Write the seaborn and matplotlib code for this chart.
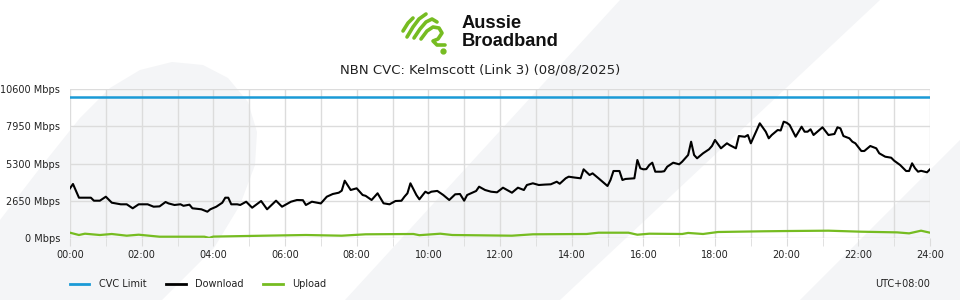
import numpy as np
import pandas as pd
import seaborn as sns
import matplotlib
matplotlib.use("Agg")
import matplotlib.pyplot as plt
from matplotlib.patches import Polygon
from matplotlib.lines import Line2D

# ---------------- data ----------------
title = "NBN CVC: Kelmscott (Link 3) (08/08/2025)"
y_ticks = [0, 2650, 5300, 7950, 10600]
x_tick_labels = ["00:00", "02:00", "04:00", "06:00", "08:00", "10:00", "12:00",
                 "14:00", "16:00", "18:00", "20:00", "22:00", "24:00"]
series_names = ["CVC Limit", "Download", "Upload"]

cvc_minutes = [0, 1440]
cvc_values = [10000, 10000]

download_minutes = [
    0, 5, 15, 35, 40, 50, 60, 70, 85, 95, 105, 115, 130, 140, 150, 160, 165, 175,
    185, 190, 200, 205, 220, 230, 235, 245, 255, 260, 265, 270, 280, 285, 295, 305,
    320, 330, 345, 355, 370, 380, 390, 395, 405, 420, 430, 440, 450, 455, 460, 470,
    480, 485, 490, 495, 505, 515, 525, 535, 545, 555, 560, 565, 570, 580, 585, 595,
    600, 605, 615, 625, 635, 645, 653, 660, 665, 680, 685, 695, 705, 715, 725, 735,
    740, 750, 760, 765, 775, 785, 795, 805, 815, 820, 830, 835, 845, 855, 860, 870,
    875, 885, 900, 905, 910, 920, 925, 930, 945, 950, 955, 960, 965, 970, 975, 980,
    990, 995, 1000, 1010, 1020, 1025, 1035, 1040, 1045, 1050, 1060, 1070, 1075, 1080,
    1090, 1100, 1105, 1115, 1120, 1130, 1135, 1140, 1150, 1155, 1165, 1170, 1175,
    1185, 1190, 1195, 1200, 1205, 1215, 1225, 1230, 1235, 1240, 1245, 1260, 1270,
    1280, 1285, 1290, 1295, 1305, 1310, 1315, 1325, 1330, 1340, 1350, 1355, 1365,
    1375, 1380, 1390, 1400, 1405, 1410, 1415, 1420, 1425, 1435, 1440]
download_values = [
    3535, 3842, 2867, 2867, 2654, 2654, 2938, 2511, 2397, 2397, 2113, 2397, 2397, 2227,
    2250, 2561, 2460, 2348, 2400, 2290, 2370, 2113, 2042, 1871, 2042, 2227, 2511, 2867,
    2867, 2397, 2397, 2350, 2582, 2156, 2632, 2042, 2654, 2227, 2582, 2703, 2690, 2348,
    2582, 2460, 2938, 3130, 3222, 3365, 4076, 3415, 3535, 3294, 3059, 3000, 2703, 3180,
    2468, 2397, 2632, 2650, 2938, 3180, 3891, 3059, 2753, 3294, 3180, 3294, 3350, 3059,
    2703, 3109, 3130, 2654, 3059, 3344, 3650, 3415, 3294, 3250, 3579, 3344, 3222, 3579,
    3415, 3770, 3891, 3770, 3800, 3820, 4005, 3860, 4247, 4361, 4300, 4247, 4887, 4482,
    4600, 4247, 3699, 4126, 4766, 4766, 4126, 4200, 4247, 5549, 4958, 4887, 4900, 5193,
    5357, 4717, 4717, 4750, 5072, 5357, 5243, 5428, 5905, 6851, 5905, 5670, 6026, 6310,
    6550, 6972, 6381, 6737, 6600, 6381, 7256, 7200, 7327, 6737, 7683, 8160, 7562, 7092,
    7327, 7683, 7650, 8274, 8200, 8039, 7206, 7918, 7562, 7562, 7733, 7327, 7875, 7327,
    7400, 7875, 7800, 7256, 7092, 6851, 6737, 6189, 6189, 6545, 6381, 6026, 5784, 5712,
    5499, 5193, 4766, 4766, 5314, 4958, 4717, 4780, 4674, 4887]

upload_minutes = [0, 15, 25, 50, 70, 95, 115, 150, 225, 233, 240, 325, 395, 455, 495,
                  575, 585, 620, 640, 740, 775, 865, 885, 935, 950, 970, 1025, 1035,
                  1060, 1085, 1160, 1205, 1270, 1325, 1385, 1405, 1425, 1440]
upload_values = [377, 213, 306, 213, 285, 164, 235, 92, 92, 10, 100, 164, 213, 164, 263,
                 285, 200, 306, 213, 164, 263, 285, 377, 377, 235, 306, 285, 360,
                 285, 427, 477, 498, 520, 448, 400, 330, 520, 377]

# ---------------- style ----------------
BLUE = "#1A9AD6"
GREEN = "#76BC21"
BG_GRAY = "#F4F5F7"
GRID = "#DCDCDC"
TXT = "#222222"

fig = plt.figure(figsize=(9.6, 3.0), dpi=100)
fig.patch.set_facecolor("white")

# background decoration axes (pixel coordinates)
bg = fig.add_axes([0, 0, 1, 1], zorder=0)
bg.set_xlim(0, 960)
bg.set_ylim(300, 0)
bg.axis("off")

blob = [(0, 300), (0, 220), (40, 168), (80, 118), (110, 88), (140, 70), (172, 62),
        (203, 65), (228, 78), (248, 102), (257, 132), (255, 165), (240, 205),
        (214, 248), (182, 280), (162, 300)]
bg.add_patch(Polygon(blob, closed=True, facecolor=BG_GRAY, edgecolor="none"))
bg.add_patch(Polygon([(620, 0), (880, 0), (560, 300), (345, 300)], closed=True,
                     facecolor=BG_GRAY, edgecolor="none"))
bg.add_patch(Polygon([(960, 140), (960, 300), (800, 300)], closed=True,
                     facecolor=BG_GRAY, edgecolor="none"))

# logo
strokes = [
    [(403, 31), (408, 23), (413, 18)],
    [(407, 37), (413, 27), (419, 19), (426, 14)],
    [(414, 38), (420, 29), (426, 22), (432, 19), (437, 22)],
    [(421, 39), (427, 31), (433, 27), (439, 28), (442, 33), (438, 39), (433, 41),
     (437, 45), (445, 45)],
]
for s in strokes:
    xs, ys = zip(*s)
    bg.plot(xs, ys, color=GREEN, lw=2.6, solid_capstyle="round",
            solid_joinstyle="round")
bg.plot([443], [51], marker="o", color=GREEN, markersize=3.5)
bg.text(462, 24, "Aussie", fontsize=13.2, fontweight="bold",
        family="Liberation Sans", color="#111111", va="center", ha="left")
bg.text(462, 42, "Broadband", fontsize=13.2, fontweight="bold",
        family="Liberation Sans", color="#111111", va="center", ha="left")

bg.text(480, 70, title, fontsize=9.5, color=TXT, ha="center", va="center",
        family="DejaVu Sans")

# ---------------- main axes ----------------
ax = fig.add_axes([70 / 960, 1 - 238 / 300, 860 / 960, 149 / 300], zorder=1)
ax.set_facecolor("none")

cvc_df = pd.DataFrame({"minute": cvc_minutes, "Mbps": cvc_values})
dl_df = pd.DataFrame({"minute": download_minutes, "Mbps": download_values})
ul_df = pd.DataFrame({"minute": upload_minutes, "Mbps": upload_values})

sns.lineplot(data=cvc_df, x="minute", y="Mbps", ax=ax, color=BLUE, lw=1.8,
             estimator=None)
sns.lineplot(data=dl_df, x="minute", y="Mbps", ax=ax, color="black", lw=1.5,
             estimator=None)
sns.lineplot(data=ul_df, x="minute", y="Mbps", ax=ax, color=GREEN, lw=1.6,
             estimator=None)

ax.set_xlim(0, 1440)
ax.set_ylim(0, 10600)
ax.set_xlabel("")
ax.set_ylabel("")
ax.set_xticks(np.arange(0, 1441, 120))
ax.set_xticklabels(x_tick_labels)
ax.set_xticks(np.arange(0, 1441, 60), minor=True)
ax.set_yticks(y_ticks)
ax.set_yticklabels([f"{v} Mbps" for v in y_ticks])
ax.grid(True, which="both", axis="x", color=GRID, lw=1)
ax.grid(True, which="major", axis="y", color=GRID, lw=1)
ax.set_axisbelow(True)
for sp in ax.spines.values():
    sp.set_visible(False)
ax.tick_params(axis="x", which="both", length=6, color=GRID, labelsize=7,
               labelcolor=TXT, pad=3)
ax.tick_params(axis="y", length=0, labelsize=7, labelcolor=TXT, pad=7)

handles = [Line2D([], [], color=c, lw=2) for c in (BLUE, "black", GREEN)]
fig.legend(handles, series_names, loc="center left", ncol=3, frameon=False,
           bbox_to_anchor=(70 / 960, 1 - 284 / 300), borderaxespad=0, borderpad=0,
           fontsize=7, handlelength=2.0, handletextpad=1.0, columnspacing=2.0,
           labelcolor=TXT)
fig.text(930 / 960, 1 - 284 / 300, "UTC+08:00", fontsize=7, color=TXT,
         ha="right", va="center")

fig.savefig("out.png", dpi=100, facecolor="white")
